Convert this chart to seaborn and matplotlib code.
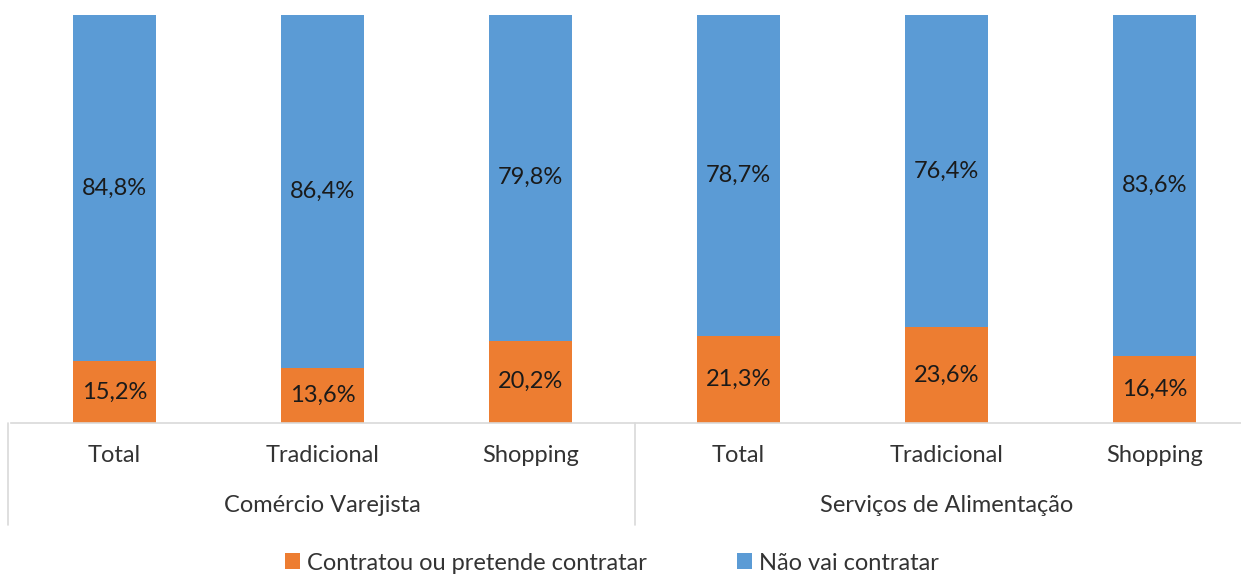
import matplotlib
matplotlib.use("Agg")
import matplotlib.pyplot as plt
import seaborn as sns
import pandas as pd
from matplotlib.patches import Patch

groups = ["Comércio Varejista", "Serviços de Alimentação"]
categories = ["Total", "Tradicional", "Shopping", "Total", "Tradicional", "Shopping"]
contratou = [15.2, 13.6, 20.2, 21.3, 23.6, 16.4]
nao_vai = [84.8, 86.4, 79.8, 78.7, 76.4, 83.6]
series_names = ["Contratou ou pretende contratar", "Não vai contratar"]

sns.set_theme(style="white")
plt.rcParams['font.family'] = ['Lato', 'DejaVu Sans']

ORANGE = "#ED7D31"
BLUE = "#5B9BD5"
TXT = "#1A1A1A"
TICK = "#333333"
GRID = "#D9D9D9"

W, H = 1241, 576
fig = plt.figure(figsize=(W / 100, H / 100), dpi=100)
ax = fig.add_axes([10.5 / W, (H - 423) / H, 1248 / W, (423 - 15) / H])

idx = list(range(len(categories)))
totals = [a + b for a, b in zip(contratou, nao_vai)]
df = pd.DataFrame({"pos": idx, "total": totals, "orange": contratou})

sns.barplot(data=df, x="pos", y="total", color=BLUE, width=0.4, saturation=1,
            ax=ax, native_scale=True, linewidth=0)
sns.barplot(data=df, x="pos", y="orange", color=ORANGE, width=0.4, saturation=1,
            ax=ax, native_scale=True, linewidth=0)

ax.set_xlim(-0.5, len(categories) - 0.5)
ax.set_ylim(0, 100)
ax.set_xlabel("")
ax.set_ylabel("")
ax.set_yticks([])
ax.set_xticks([])
for s in ["left", "right", "top"]:
    ax.spines[s].set_visible(False)
ax.spines["bottom"].set_color(GRID)
ax.spines["bottom"].set_linewidth(1.2)

fs = 17
for i in idx:
    ax.text(i, contratou[i] / 2, f"{contratou[i]:.1f}%".replace(".", ","),
            ha="center", va="center", fontsize=fs, color=TXT)
    ax.text(i, contratou[i] + nao_vai[i] / 2, f"{nao_vai[i]:.1f}%".replace(".", ","),
            ha="center", va="center", fontsize=fs, color=TXT)

tr = ax.get_xaxis_transform()
px = 1 / (423 - 15)
for i, c in enumerate(categories):
    ax.text(i, -(455 - 423) * px, c, ha="center", va="center", fontsize=fs,
            color=TICK, transform=tr, clip_on=False)
for g, name in enumerate(groups):
    ax.text(g * 3 + 1, -(506 - 423) * px, name, ha="center", va="center",
            fontsize=fs, color=TICK, transform=tr, clip_on=False)
for xsep in [-0.51, 2.5, 5.5]:
    ax.plot([xsep, xsep], [0, -(525 - 423) * px], color=GRID, lw=1.2,
            transform=tr, clip_on=False)

handles = [Patch(facecolor=ORANGE, edgecolor="none"),
           Patch(facecolor=BLUE, edgecolor="none")]
fig.legend(handles, series_names, loc="center", bbox_to_anchor=(612 / W, 1 - 563 / H),
           ncol=2, frameon=False, fontsize=fs, handlelength=0.65, handleheight=0.65,
           handletextpad=0.3, columnspacing=3.8, labelcolor=TICK)

fig.savefig("out.png", dpi=100)
